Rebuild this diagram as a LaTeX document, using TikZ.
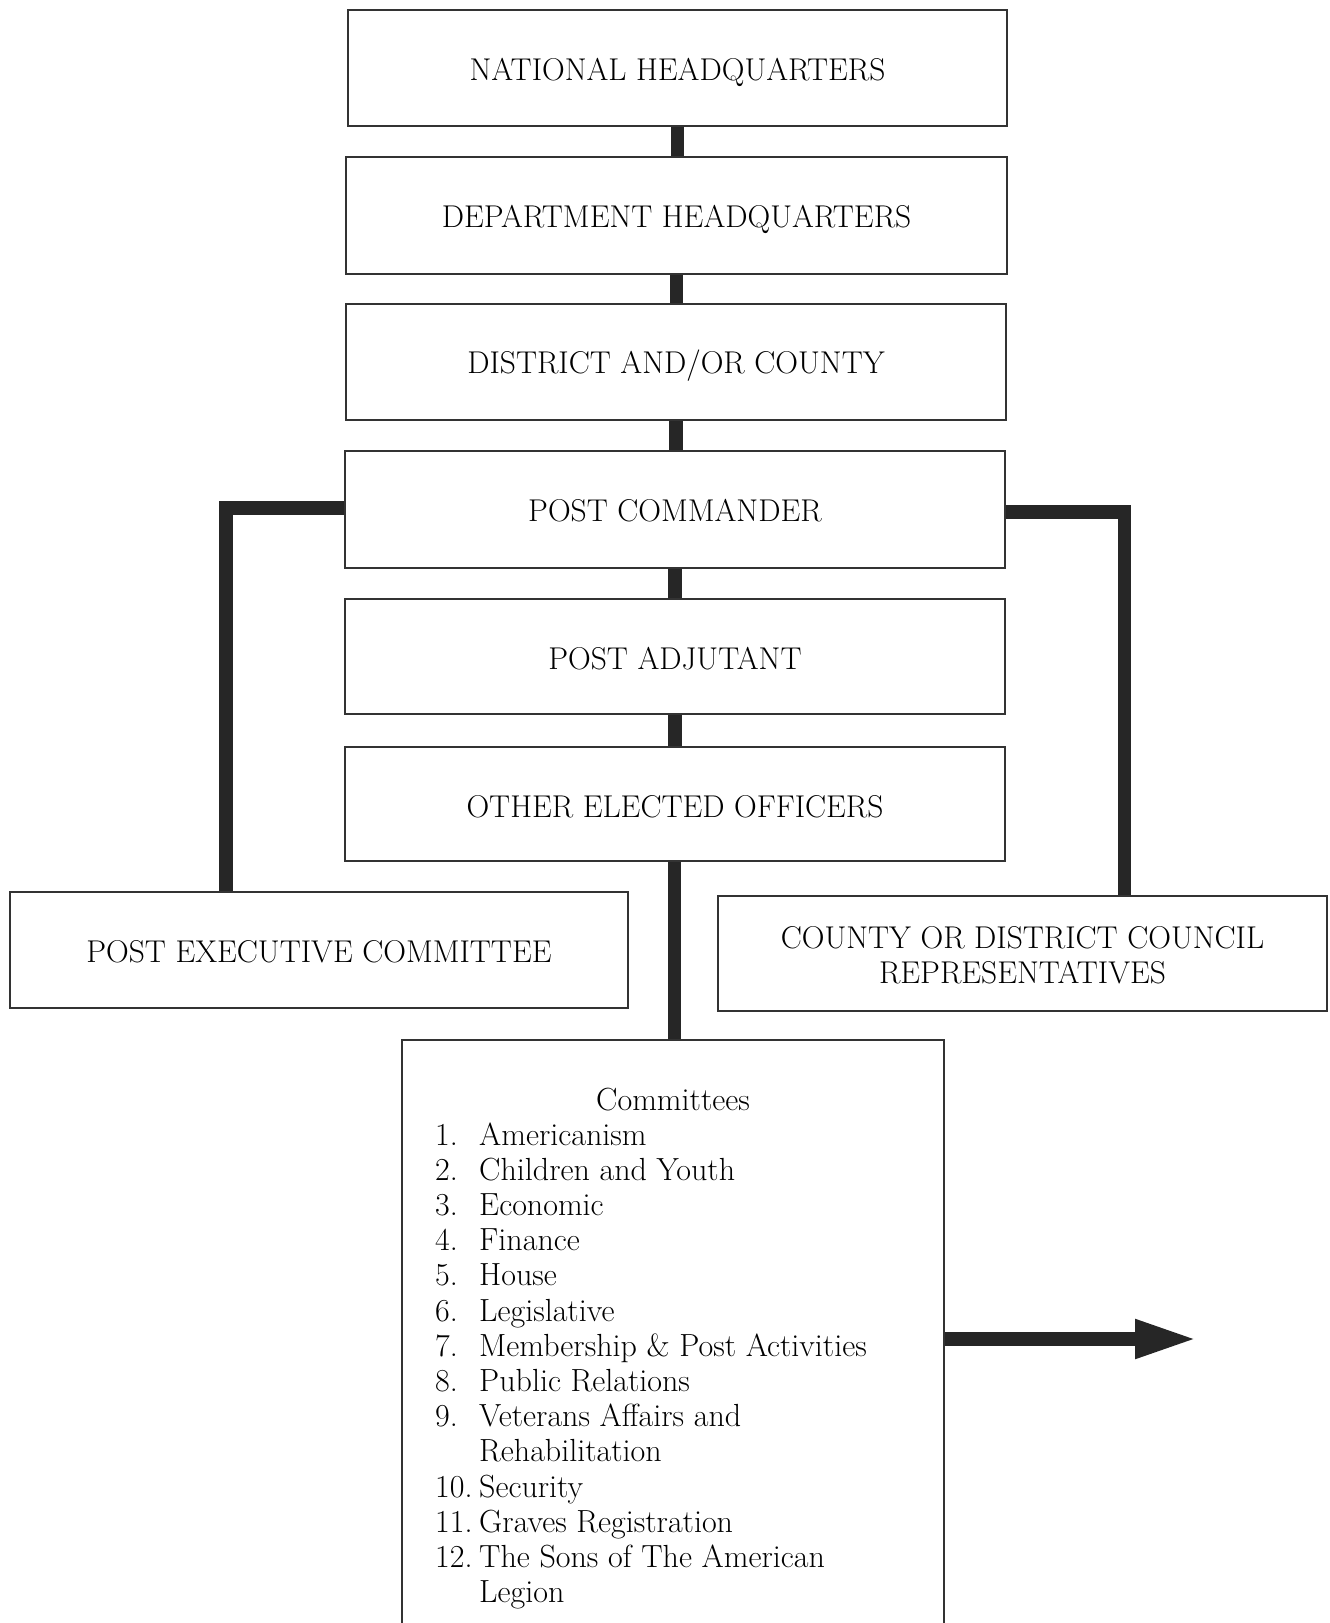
\documentclass[tikz,border=0pt]{standalone}
\usetikzlibrary{arrows.meta}
\definecolor{boxgray}{HTML}{333333}
\definecolor{conngray}{HTML}{262626}
\definecolor{inkc}{HTML}{000000}
\newcommand{\lowtext}[2][3pt]{\raisebox{-#1}[\height][\depth]{#2}}
\begin{document}
\begin{tikzpicture}[x=1pt,y=-1pt,
  orgbox/.style={draw=boxgray, line width=1.8pt, fill=white, inner sep=0pt,
    text=inkc, font=\fontsize{31.5}{35}\selectfont, align=center},
  conn/.style={draw=conngray, line width=13.5pt, line join=miter},
  listtext/.style={text=inkc, font=\fontsize{32}{35.2}\selectfont, inner sep=0pt}
]
\clip (0,0) rectangle (1330,1623);
\fill[white] (0,0) rectangle (1330,1623);

% boxes
\node[orgbox, minimum width=659pt, minimum height=116pt] (nat) at (677.5,68) {\lowtext[4pt]{NATIONAL HEADQUARTERS}};
\node[orgbox, minimum width=661pt, minimum height=117pt] (dept) at (676.5,215.5) {\lowtext[4pt]{DEPARTMENT HEADQUARTERS}};
\node[orgbox, minimum width=660pt, minimum height=116pt] (dist) at (676,362) {\lowtext[4pt]{DISTRICT AND/OR COUNTY}};
\node[orgbox, minimum width=660pt, minimum height=117pt] (cmdr) at (675,509.5) {\lowtext[1.5pt]{POST COMMANDER}};
\node[orgbox, minimum width=660pt, minimum height=115pt] (adj) at (675,656.5) {\lowtext[2.5pt]{POST ADJUTANT}};
\node[orgbox, minimum width=660pt, minimum height=114pt] (other) at (675,804) {\lowtext[3pt]{OTHER ELECTED OFFICERS}};
\node[orgbox, minimum width=618pt, minimum height=116pt] (exec) at (319,950) {\lowtext[2pt]{POST EXECUTIVE COMMITTEE}};
\node[orgbox, minimum width=609pt, minimum height=115pt] (county) at (1022.5,953.5) {\lowtext[5pt]{\begin{tabular}{@{}c@{}}COUNTY OR DISTRICT COUNCIL\\REPRESENTATIVES\end{tabular}}};
\node[orgbox, minimum width=542pt, minimum height=620pt] (comm) at (673,1350) {};

% connectors
\draw[conn] (nat.south) -- (nat.south |- dept.north);
\draw[conn] (dept.south) -- (dept.south |- dist.north);
\draw[conn] (dist.south) -- (dist.south |- cmdr.north);
\draw[conn] (cmdr.south) -- (cmdr.south |- adj.north);
\draw[conn] (adj.south) -- (adj.south |- other.north);
\draw[conn] ([xshift=-0.5pt]other.south) -- ([xshift=-0.5pt]other.south |- comm.north);
\draw[conn] ([yshift=1.5pt]cmdr.west) -| ([xshift=-93pt]exec.north);
\draw[conn] ([yshift=-2.5pt]cmdr.east) -| ([xshift=102pt]county.north);
\coordinate (arrowend) at (1197,1339);
\draw[conn, -{Triangle[length=62pt,width=36pt]}] (comm.east |- arrowend) -- (arrowend);

% committee list
\node[listtext] (commtitle) at (673,1100) {Committees};
\node[listtext, anchor=base west, align=left] (commlist) at (435,1602.6) {%
\makebox[44pt][l]{1.}Americanism\\
\makebox[44pt][l]{2.}Children and Youth\\
\makebox[44pt][l]{3.}Economic\\
\makebox[44pt][l]{4.}Finance\\
\makebox[44pt][l]{5.}House\\
\makebox[44pt][l]{6.}Legislative\\
\makebox[44pt][l]{7.}Membership \& Post Activities\\
\makebox[44pt][l]{8.}Public Relations\\
\makebox[44pt][l]{9.}Veterans Affairs and\\
\hspace*{44pt}Rehabilitation\\
\makebox[44pt][l]{10.}Security\\
\makebox[44pt][l]{11.}Graves Registration\\
\makebox[44pt][l]{12.}The Sons of The American\\
\hspace*{44pt}Legion};
\end{tikzpicture}
\end{document}
